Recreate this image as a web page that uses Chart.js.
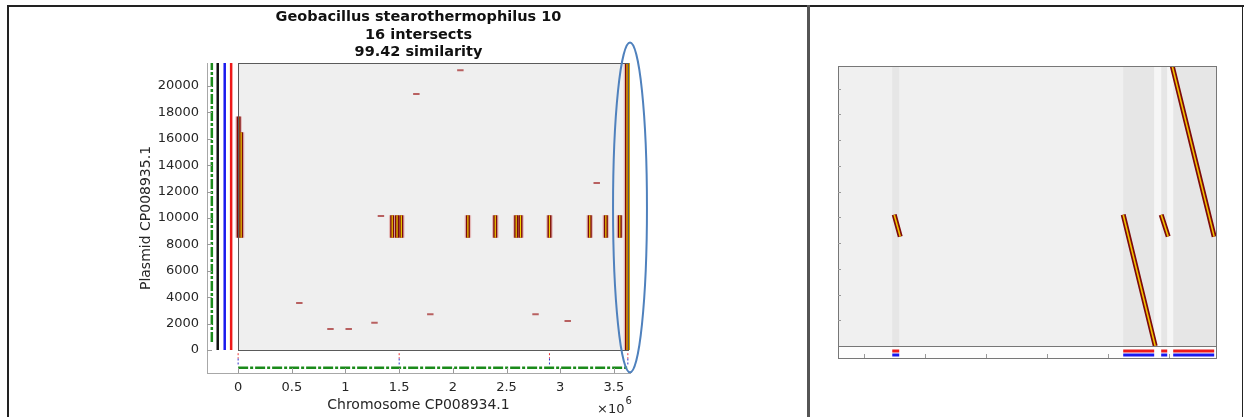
<!DOCTYPE html>
<html>
<head>
<meta charset="utf-8">
<script src="https://cdn.jsdelivr.net/npm/chart.js@4.4.1/dist/chart.umd.min.js"></script>
<style>
  html, body { margin: 0; padding: 0; background: #fff; }
  #page { position: relative; width: 1244px; height: 417px; overflow: hidden; }
  .rule { position: absolute; background: #222; }
  canvas { position: absolute; }
</style>
</head>
<body>
<div id="page">
  <div class="rule" style="left:7px; top:5px; width:1237px; height:2px;"></div>
  <div class="rule" style="left:7px; top:5px; width:2px; height:412px;"></div>
  <div class="rule" style="left:807px; top:5px; width:3px; height:412px; background:#555;"></div>
  <div class="rule" style="left:1242px; top:5px; width:1px; height:412px;"></div>
  <canvas id="dotPlot" width="600" height="417" style="left:100px; top:0;"></canvas>
  <canvas id="zoomPlot" width="425" height="417" style="left:815px; top:0;"></canvas>
</div>
<script>
Chart.defaults.font.family = "'DejaVu Sans', sans-serif";
Chart.defaults.color = '#262626';

// ---- dot plot: chromosome vs plasmid ----
const chromLen = 3630000;
const plasmidLen = 21750;
const xMin = -290000, xMax = 3650000;
const yMin = -1750;
const xTicks = [0, 500000, 1000000, 1500000, 2000000, 2500000, 3000000, 3500000];
const yTicks = [0, 2000, 4000, 6000, 8000, 10000, 12000, 14000, 16000, 18000, 20000];
const titleLines = ['Geobacillus stearothermophilus 10', '16 intersects', '99.42 similarity'];

// aligned blocks: [chromosome pos, plasmid start, plasmid end]
const blocks = [
  [5000, 8500, 17700], [28000, 8500, 16500],
  [1435000, 8500, 10200], [1480000, 8500, 10200], [1520000, 8500, 10200],
  [2140000, 8500, 10200],
  [2395000, 8500, 10200],
  [2590000, 8500, 10200], [2630000, 8500, 10200],
  [2900000, 8500, 10200],
  [3275000, 8500, 10200],
  [3425000, 8500, 10200],
  [3555000, 8500, 10200],
  [3622000, 0, 21750], [3642000, 0, 21750]
];

// short single hits: [chromosome pos, plasmid pos]
const hits = [
  [540000, 3560], [830000, 1590], [1000000, 1590], [1240000, 2050],
  [1300000, 10150], [1630000, 19400], [1760000, 2700], [2040000, 21200],
  [2740000, 2700], [3040000, 2200], [3310000, 12650]
];
const hitLen = 60000;

// coverage tracks left of the plot
const trackX = [-245000, -190000, -125000, -65000];
const trackFrom = [600, 0, 0, 0];
const trackColors = ['#1a8a1a', '#111111', '#1a1aee', '#ee1a1a'];
const bottomTrackY = -1360;

// contig breaks under the plot
const breakX = [0, 1500000, 2900000, 3630000];

// highlighted region (ellipse) in data units
const focus = { x: 3650000, y: 10800, rx: 158000, ry: 12500 };

function segs(list) {
  const pts = [];
  list.forEach(([x0, y0, x1, y1]) => {
    pts.push({ x: x0, y: y0 }, { x: x1, y: y1 }, { x: x1, y: null });
  });
  return pts;
}

// later entries are drawn on top
let drawOrder = 0;
function lineSet(data, color, width, dash) {
  return {
    data, showLine: true, spanGaps: false, pointRadius: 0,
    borderColor: color, borderWidth: width, borderDash: dash || [],
    borderCapStyle: 'butt', order: -(drawOrder++)
  };
}

const dotPlotFrame = {
  id: 'dotPlotFrame',
  beforeDatasetsDraw(chart) {
    const { ctx, scales: { x, y } } = chart;
    const l = x.getPixelForValue(0), r = x.getPixelForValue(chromLen);
    const t = y.getPixelForValue(plasmidLen), b = y.getPixelForValue(0);
    ctx.save();
    ctx.fillStyle = '#efefef';
    ctx.fillRect(l, t, r - l, b - t);
    ctx.restore();
  },
  afterDatasetsDraw(chart) {
    const { ctx, chartArea: ca, scales: { x, y } } = chart;
    const l = x.getPixelForValue(0), r = x.getPixelForValue(chromLen);
    const t = y.getPixelForValue(plasmidLen), b = y.getPixelForValue(0);
    ctx.save();
    ctx.strokeStyle = '#5a5a5a';
    ctx.lineWidth = 1;
    ctx.strokeRect(Math.round(l) + 0.5, Math.round(t) + 0.5, Math.round(r - l), Math.round(b - t));

    // inward tick marks
    ctx.strokeStyle = '#9a9a9a';
    ctx.beginPath();
    yTicks.forEach(v => {
      const py = Math.round(y.getPixelForValue(v)) + 0.5;
      ctx.moveTo(ca.left, py); ctx.lineTo(ca.left + 5, py);
    });
    xTicks.forEach(v => {
      const px = Math.round(x.getPixelForValue(v)) + 0.5;
      ctx.moveTo(px, ca.bottom); ctx.lineTo(px, ca.bottom - 5);
    });
    ctx.stroke();

    // highlighted region
    const cx = x.getPixelForValue(focus.x), cy = y.getPixelForValue(focus.y);
    const rx = x.getPixelForValue(focus.x + focus.rx) - cx;
    const ry = cy - y.getPixelForValue(focus.y + focus.ry);
    ctx.strokeStyle = '#4f81bd';
    ctx.lineWidth = 2;
    ctx.beginPath();
    ctx.ellipse(cx, cy, rx, ry, 0, 0, Math.PI * 2);
    ctx.stroke();

    // exponent label
    ctx.fillStyle = '#262626';
    ctx.textBaseline = 'alphabetic';
    ctx.font = "13px 'DejaVu Sans'";
    ctx.fillText('\u00d710', ca.right - 33, 413);
    const w = ctx.measureText('\u00d710').width;
    ctx.font = "10px 'DejaVu Sans'";
    ctx.fillText('6', ca.right - 33 + w + 1, 404);
    ctx.restore();
  }
};

new Chart(document.getElementById('dotPlot'), {
  type: 'scatter',
  data: {
    datasets: [
      lineSet(segs([[trackX[0], trackFrom[0], trackX[0], plasmidLen]]), trackColors[0], 2.5, [10, 2, 3, 2]),
      lineSet(segs([[trackX[1], trackFrom[1], trackX[1], plasmidLen]]), trackColors[1], 2.5),
      lineSet(segs([[trackX[2], trackFrom[2], trackX[2], plasmidLen]]), trackColors[2], 2.5),
      lineSet(segs([[trackX[3], trackFrom[3], trackX[3], plasmidLen]]), trackColors[3], 2.5),
      lineSet(segs([[0, bottomTrackY, chromLen, bottomTrackY]]), trackColors[0], 2.5, [10, 2, 3, 2]),
      lineSet(segs(breakX.map(v => [v, -250, v, -650])), '#ee3030', 1, [2, 2]),
      lineSet(segs(breakX.map(v => [v, -650, v, -1100])), '#3030cc', 1, [2, 2]),
      lineSet(segs(hits.map(([hx, hy]) => [hx, hy, hx + hitLen, hy])), 'rgba(170,60,60,0.8)', 2),
      lineSet(segs(blocks.map(([bx, y0, y1]) => [bx, y0, bx, y1])), 'rgba(215,120,120,0.45)', 6.5),
      lineSet(segs(blocks.map(([bx, y0, y1]) => [bx, y0, bx, y1])), '#7d0a0a', 4),
      lineSet(segs(blocks.map(([bx, y0, y1]) => [bx, y0, bx, y1])), '#f0d000', 1.2)
    ]
  },
  options: {
    responsive: false,
    animation: false,
    devicePixelRatio: 1,
    events: [],
    layout: { padding: { left: 0, right: 70, top: 0, bottom: 0 } },
    plugins: {
      legend: { display: false },
      tooltip: { enabled: false },
      title: {
        display: true,
        fullSize: false,
        text: titleLines,
        color: '#111',
        font: { size: 14.5, weight: 'bold', lineHeight: 1.23 },
        padding: { top: 8, bottom: 1.5 }
      }
    },
    scales: {
      x: {
        type: 'linear', min: xMin, max: xMax,
        afterBuildTicks: s => { s.ticks = xTicks.map(v => ({ value: v })); },
        afterFit: s => { s.height = 44; },
        ticks: { callback: v => String(v / 1e6), font: { size: 13 }, padding: 7, maxRotation: 0, autoSkip: false },
        grid: { display: false, drawTicks: false },
        border: { display: true, color: '#a8a8a8' },
        title: { display: true, text: 'Chromosome CP008934.1', font: { size: 14 }, padding: { top: 0, bottom: 3 } }
      },
      y: {
        type: 'linear', min: yMin, max: plasmidLen,
        afterBuildTicks: s => { s.ticks = yTicks.map(v => ({ value: v })); },
        afterFit: s => { s.width = 107; },
        ticks: { callback: v => String(v), font: { size: 13 }, padding: 8, autoSkip: false },
        grid: { display: false, drawTicks: false },
        border: { display: true, color: '#a8a8a8' },
        title: { display: true, text: 'Plasmid CP008935.1', font: { size: 14 }, padding: { top: 38, bottom: 0 } }
      }
    }
  },
  plugins: [dotPlotFrame]
});

// ---- zoomed view of the matching windows ----
const zoomXMin = 1570, zoomXMax = 7770;
const zoomYMin = -932;
const zoomXTicks = [2000, 3000, 4000, 5000, 6000, 7000];
const zoomYTicks = [2000, 4000, 6000, 8000, 10000, 12000, 14000, 16000, 18000, 20000];
const zoomBands = [[2460, 2574], [6248, 6756], [6871, 6970], [7068, 7770]];
const zoomGaps = [[6756, 6871], [6970, 7068]];
// diagonal matches: [x start, plasmid start, x end, plasmid end]
const zoomLines = [
  [2492, 10200, 2591, 8500],
  [6248, 10200, 6773, 0],
  [6871, 10200, 6986, 8500],
  [7052, 21750, 7740, 8500]
];
const zoomBars = [[2460, 2574], [6248, 6756], [6871, 6970], [7068, 7740]];
const zoomBarRed = -390, zoomBarBlue = -700;

const zoomFrame = {
  id: 'zoomFrame',
  beforeDatasetsDraw(chart) {
    const { ctx, chartArea: ca, scales: { x, y } } = chart;
    const t = y.getPixelForValue(plasmidLen), b = y.getPixelForValue(0);
    ctx.save();
    ctx.fillStyle = '#fdfdfd';
    ctx.fillRect(ca.left, ca.top, ca.width, ca.height);
    ctx.fillStyle = '#f0f0f0';
    ctx.fillRect(ca.left, t, ca.width, b - t);
    ctx.fillStyle = '#e6e6e6';
    zoomBands.forEach(([a, c]) => {
      const pa = x.getPixelForValue(a), pc = x.getPixelForValue(c);
      ctx.fillRect(pa, t, pc - pa, b - t);
    });
    ctx.fillStyle = '#f6f6f6';
    zoomGaps.forEach(([a, c]) => {
      const pa = x.getPixelForValue(a), pc = x.getPixelForValue(c);
      ctx.fillRect(pa, t, pc - pa, b - t);
    });
    ctx.restore();
  },
  afterDatasetsDraw(chart) {
    const { ctx, chartArea: ca, scales: { x, y } } = chart;
    const b = Math.round(y.getPixelForValue(0)) + 0.5;
    ctx.save();
    ctx.strokeStyle = '#777';
    ctx.lineWidth = 1;
    ctx.strokeRect(Math.round(ca.left) + 0.5, Math.round(ca.top) + 0.5, Math.round(ca.width), Math.round(ca.height));
    ctx.beginPath();
    ctx.moveTo(ca.left, b); ctx.lineTo(ca.right, b);
    ctx.stroke();
    ctx.strokeStyle = '#999';
    ctx.beginPath();
    zoomXTicks.forEach(v => {
      const px = Math.round(x.getPixelForValue(v)) + 0.5;
      ctx.moveTo(px, ca.bottom); ctx.lineTo(px, ca.bottom - 4);
    });
    zoomYTicks.forEach(v => {
      const py = Math.round(y.getPixelForValue(v)) + 0.5;
      ctx.moveTo(ca.left, py); ctx.lineTo(ca.left + 3, py);
    });
    ctx.stroke();
    ctx.restore();
  }
};

new Chart(document.getElementById('zoomPlot'), {
  type: 'scatter',
  data: {
    datasets: [
      lineSet(segs(zoomLines), '#7d0a0a', 5),
      lineSet(segs(zoomLines), '#f2c200', 1.6),
      lineSet(segs(zoomBars.map(([a, c]) => [a, zoomBarRed, c, zoomBarRed])), '#ee1a1a', 3),
      lineSet(segs(zoomBars.map(([a, c]) => [a, zoomBarBlue, c, zoomBarBlue])), '#1a1aee', 3)
    ]
  },
  options: {
    responsive: false,
    animation: false,
    devicePixelRatio: 1,
    events: [],
    layout: { padding: { left: 23, right: 24, top: 66, bottom: 59 } },
    plugins: { legend: { display: false }, tooltip: { enabled: false } },
    scales: {
      x: { type: 'linear', display: false, min: zoomXMin, max: zoomXMax },
      y: { type: 'linear', display: false, min: zoomYMin, max: plasmidLen }
    }
  },
  plugins: [zoomFrame]
});
</script>
</body>
</html>
